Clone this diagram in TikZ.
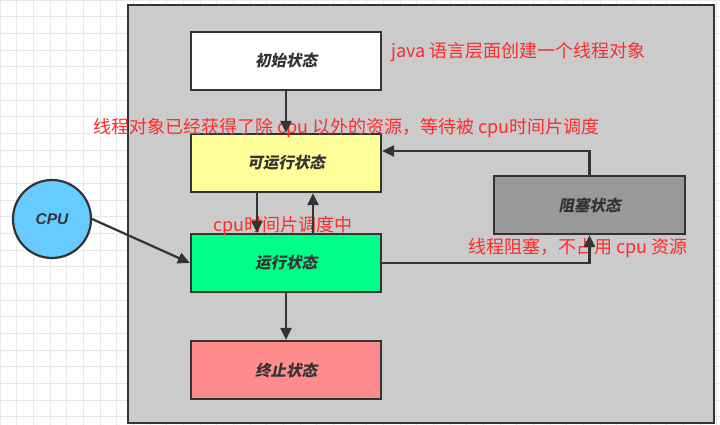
\documentclass[tikz,border=0pt]{standalone}
\usepackage{fontspec}
\setmainfont{Noto Sans CJK SC}
\newfontfamily\cjk{Noto Sans CJK SC}
\newfontfamily\cjkbi{Noto Sans CJK SC}[UprightFeatures={FakeSlant=0.2},BoldFeatures={FakeSlant=0.2}]
\newfontfamily\latbi{Liberation Sans}
\usetikzlibrary{arrows.meta}
\definecolor{gridc}{HTML}{E8E8E8}
\definecolor{panel}{HTML}{CBCBCB}
\definecolor{edge}{HTML}{333333}
\definecolor{redtxt}{HTML}{FF2B2B}
\definecolor{yel}{HTML}{FFFF99}
\definecolor{grn}{HTML}{00FF88}
\definecolor{pnk}{HTML}{FF8C8C}
\definecolor{gry}{HTML}{999999}
\definecolor{cpuc}{HTML}{66CCFF}
\tikzset{
  statebox/.style={draw=edge, line width=2.2pt, minimum width=190pt, minimum height=58pt,
    inner sep=0pt, font=\cjkbi\bfseries\fontsize{15.5}{15.5}\selectfont, text=edge},
  note/.style={anchor=west, inner sep=0pt, text=redtxt, font=\cjk\fontsize{18}{18}\selectfont},
  conn/.style={draw=edge, line width=2.2pt, -{Triangle[length=12pt,width=11pt]}}
}
\begin{document}
\begin{tikzpicture}[x=1pt,y=-1pt]
\useasboundingbox (0,0) rectangle (720,425);
\fill[white] (0,0) rectangle (720,425);
\foreach \i in {0,...,43} {\draw[gridc, line width=0.8pt] (\i*16.67,0) -- (\i*16.67,425);}
\foreach \j in {0,...,25} {\draw[gridc, line width=0.8pt] (0,\j*16.67) -- (720,\j*16.67);}
\draw[draw=edge, fill=panel, line width=2.2pt] (128,5) rectangle (714,423);

\node[statebox, fill=white] (init) at (286,61) {初始状态};
\node[statebox, fill=yel] (runnable) at (286,163) {可运行状态};
\node[statebox, fill=grn] (running) at (286,263) {运行状态};
\node[statebox, fill=pnk] (term) at (286,370) {终止状态};
\node[statebox, fill=gry, minimum width=191pt] (blocked) at (589.5,205) {阻塞状态};
\node[circle, draw=edge, line width=2.2pt, fill=cpuc, minimum size=78pt, inner sep=0pt,
  font=\latbi\bfseries\itshape\fontsize{15.5}{15.5}\selectfont, text=edge] (cpu) at (52,219) {CPU};

\node[note] (t1) at (391,52) {java 语言层面创建一个线程对象};
\node[note] (t2) at (93,128) {线程对象已经获得了除 cpu 以外的资源，等待被 cpu时间片调度};
\node[note] (t3) at (213,226) {cpu时间片调度中};
\node[note] (t4) at (468,248) {线程阻塞，不占用 cpu 资源};

\draw[conn] (init.south) -- (runnable.north);
\draw[conn] (runnable.south -| 257,0) -- (running.north -| 257,0);
\draw[conn] (running.north -| 313,0) -- (runnable.south -| 313,0);
\draw[conn] (running.south) -- (term.north);
\draw[conn] (cpu.east) -- (running.west);
\draw[conn] (running.east) -| (blocked.south);
\draw[conn] (blocked.north) |- (runnable.east |- 0,151);
\end{tikzpicture}
\end{document}
